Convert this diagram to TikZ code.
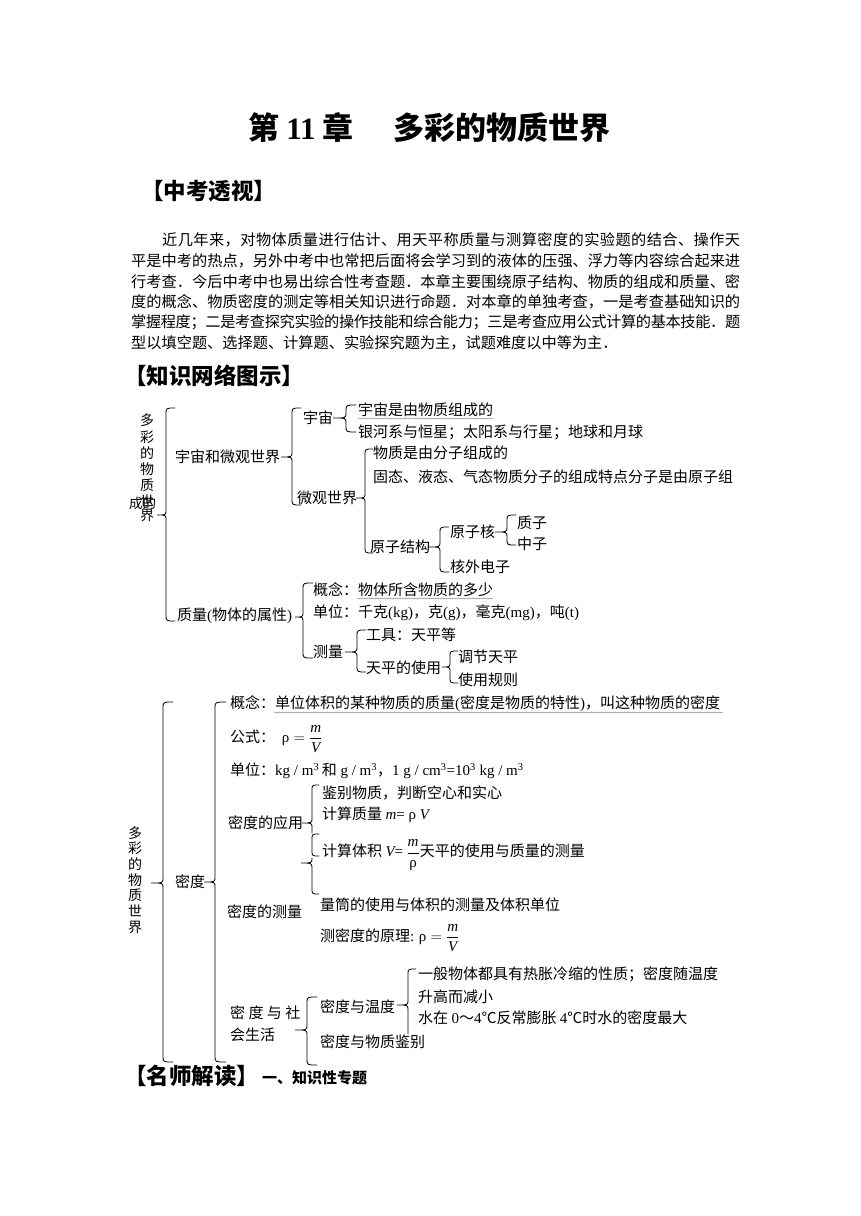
\RequirePackage{fix-cm}
\documentclass[tikz,border=0pt]{standalone}
\usepackage{fontspec}
\setmainfont{Noto Sans CJK SC}
\newfontfamily\lat{Liberation Serif}
\usetikzlibrary{decorations.pathmorphing}
\newcommand\myfs[1]{\fontsize{#1}{#1}\selectfont}
\makeatletter
\def\sp@aux#1{\ifx#1\relax\else\hskip 0pt plus 1fil minus 1fil\relax#1\expandafter\sp@aux\fi}
\def\sp@first#1{#1\sp@aux}
\newcommand\spreadline[2]{\hbox to #1{\sp@first#2\relax}}
\makeatother
\newcommand\brc[6]{%
 \draw[br] (#6,#2) .. controls (#1,#2) .. (#1,#2+6) -- (#1,#3-5) .. controls (#1,#3) .. (#5,#3)
   .. controls (#1,#3) .. (#1,#3+5) -- (#1,#4-6) .. controls (#1,#4) .. (#6,#4);}
\tikzset{
 txt/.style={anchor=west, inner sep=0pt, font=\myfs{15}},
 par/.style={anchor=west, inner sep=0pt, font=\myfs{15.2}},
 head/.style={anchor=west, inner sep=0pt, font=\bfseries\myfs{22.5}},
 vt/.style={inner sep=0pt, font=\myfs{14}},
 br/.style={line width=0.8pt, line cap=round},
 uline/.style={gray!85, line width=0.5pt, decorate, decoration={snake, amplitude=0.5pt, segment length=2.4pt}},
}
\begin{document}
\begin{tikzpicture}[x=1pt,y=-1pt]
\fill[white] (0,0) rectangle (860,1216);
\useasboundingbox (0,0) rectangle (860,1216);
% title
\node[anchor=west, inner sep=0pt, font=\bfseries\myfs{31}] (t1) at (248,128) {第 {\lat 11} 章};
\node[anchor=west, inner sep=0pt, font=\bfseries\myfs{31}] (t2) at (393,128) {多彩的物质世界};
% headings
\node[head] (h1) at (141,191) {【中考透视】};
\node[head] (h2) at (124,376) {【知识网络图示】};
\node[head] (h3) at (124,1076) {【名师解读】};
\node[anchor=west, inner sep=0pt, font=\bfseries\myfs{15}] (h3b) at (262,1078) {一、知识性专题};
% paragraph
\node[par] (p1) at (162,240) {\spreadline{578pt}{近几年来，对物体质量进行估计、用天平称质量与测算密度的实验题的结合、操作天}};
\node[par] (p2) at (131,260.6) {\spreadline{609pt}{平是中考的热点，另外中考中也常把后面将会学习到的液体的压强、浮力等内容综合起来进}};
\node[par] (p3) at (131,281.2) {\spreadline{609pt}{行考查．今后中考中也易出综合性考查题．本章主要围绕原子结构、物质的组成和质量、密}};
\node[par] (p4) at (131,301.8) {\spreadline{609pt}{度的概念、物质密度的测定等相关知识进行命题．对本章的单独考查，一是考查基础知识的}};
\node[par] (p5) at (131,322.4) {\spreadline{609pt}{掌握程度；二是考查探究实验的操作技能和综合能力；三是考查应用公式计算的基本技能．题}};
\node[par] (p6) at (131,343) {型以填空题、选择题、计算题、实验探究题为主，试题难度以中等为主．};
% ---------- first tree ----------
\foreach \c/\yy [count=\i] in {多/420,彩/437,的/453,物/469,质/485,世/501,界/515}
  \node[vt] (va\i) at (147,\yy) {\c};
\node[anchor=west, inner sep=0pt, font=\myfs{13.5}] (vacd) at (129,503) {成的};
\brc{166}{408}{515}{621}{157}{175}
\node[txt] (n1) at (175,457) {宇宙和微观世界};
\brc{292}{408}{457}{505}{281}{301}
\node[txt] (n2) at (303,418) {宇宙};
\brc{346}{405}{418}{432}{333}{356}
\node[txt] (n3) at (358,410) {宇宙是由物质组成的};
\draw[uline] (358,418.5) -- (493,418.5);
\node[txt] (n4) at (358,432) {银河系与恒星；太阳系与行星；地球和月球};
\node[txt] (n5) at (297,498) {微观世界};
\brc{365}{449}{498}{553}{356}{373}
\node[txt] (n6) at (373,453) {物质是由分子组成的};
\node[txt] (n7) at (373,477) {固态、液态、气态物质分子的组成特点分子是由原子组};
\node[txt] (n8) at (370,547) {原子结构};
\brc{440}{527}{547}{572}{428}{449}
\node[txt] (n9) at (450,532) {原子核};
\brc{507}{515}{532}{545}{495}{516}
\node[txt] (n10) at (517,523) {质子};
\node[txt] (n11) at (517,544) {中子};
\node[txt] (n12) at (450,567) {核外电子};
\node[txt] (n13) at (177,616) {质量{\lat (}物体的属性{\lat )}};
\brc{303}{583}{617}{658}{295}{313}
\node[txt] (n14) at (313,590) {概念：物体所含物质的多少};
\draw[uline] (357,598.5) -- (493,598.5);
\node[txt] (n15) at (313,613) {单位：千克{\lat (kg)}，克{\lat (g)}，毫克{\lat (mg)}，吨{\lat (t)}};
\node[txt] (n16) at (313,652) {测量};
\brc{357}{630}{652}{672}{345}{366}
\node[txt] (n17) at (366,635) {工具：天平等};
\node[txt] (n18) at (366,668) {天平的使用};
\brc{450}{651}{667}{683}{442}{458}
\node[txt] (n19) at (458,657) {调节天平};
\node[txt] (n20) at (458,680) {使用规则};
% ---------- second tree ----------
\foreach \c/\yy [count=\i] in {多/833,彩/848,的/864,物/880,质/895,世/911,界/927}
  \node[vt] (vb\i) at (135,\yy) {\c};
\brc{163}{702}{883}{1062}{151}{173}
\node[txt] (m1) at (175,882) {密度};
\brc{215}{702}{882}{1062}{204}{226}
\node[txt] (m2) at (230,704) {概念：单位体积的某种物质的质量{\lat (}密度是物质的特性{\lat )}，叫这种物质的密度};
\draw[uline] (274,712.5) -- (723,712.5);
\node[txt] (m3) at (230,739) {公式：\ \ $\hbox{\lat ρ}=\displaystyle\frac{\hbox{\lat\itshape m}}{\hbox{\lat\itshape V}}$};
\node[txt] (m4) at (230,771) {单位：{\lat kg / m\textsuperscript{3}\,}和{\lat\ g / m\textsuperscript{3}}，{\lat 1 g / cm\textsuperscript{3}=10\textsuperscript{3} kg / m\textsuperscript{3}}};
\node[txt] (m5) at (228,823) {密度的应用};
\draw[br] (319,785) .. controls (312,785) .. (312,791) -- (312,818) .. controls (312,823) .. (302,823)
  .. controls (312,823) .. (312,828) -- (312,833);
\draw[br] (319,834) .. controls (312,834) .. (312,840) -- (312,850) .. controls (312,856) .. (319,856);
\draw[br] (312,858) .. controls (312,863) .. (301,863) .. controls (312,863) .. (312,869) -- (312,888) .. controls (312,894) .. (319,894);
\node[txt] (m6) at (322,793) {鉴别物质，判断空心和实心};
\node[txt] (m7) at (322,815) {计算质量 {\lat\itshape m}{\lat = ρ }{\lat\itshape V}};
\node[txt] (m8) at (322,855) {计算体积 {\lat\itshape V}{\lat =} $\displaystyle\frac{\hbox{\lat\itshape m}}{\hbox{\lat ρ}}$天平的使用与质量的测量};
\node[txt] (m9) at (227,912) {密度的测量};
\node[txt] (m10) at (320,905) {量筒的使用与体积的测量及体积单位};
\node[txt] (m11) at (320,938) {测密度的原理{\lat :} $\hbox{\lat ρ} = \displaystyle\frac{\hbox{\lat\itshape m}}{\hbox{\lat\itshape V}}$};
\node[txt] (m12) at (230,1013) {密 度 与 社};
\node[txt] (m13) at (230,1035) {会生活};
\brc{307}{997}{1030}{1065}{295}{317}
\node[txt] (m14) at (320,1007) {密度与温度};
\draw[br] (416,969) .. controls (408,969) .. (408,975) -- (408,1000) .. controls (408,1005) .. (397,1005)
  .. controls (408,1005) .. (408,1010) -- (408,1034);
\node[txt] (m15) at (418,974) {一般物体都具有热胀冷缩的性质；密度随温度};
\node[txt] (m16) at (418,997) {升高而减小};
\node[txt] (m17) at (418,1018) {水在 {\lat 0}～{\lat 4}℃反常膨胀 {\lat 4}℃时水的密度最大};
\node[txt] (m18) at (320,1042) {密度与物质鉴别};
\end{tikzpicture}
\end{document}
